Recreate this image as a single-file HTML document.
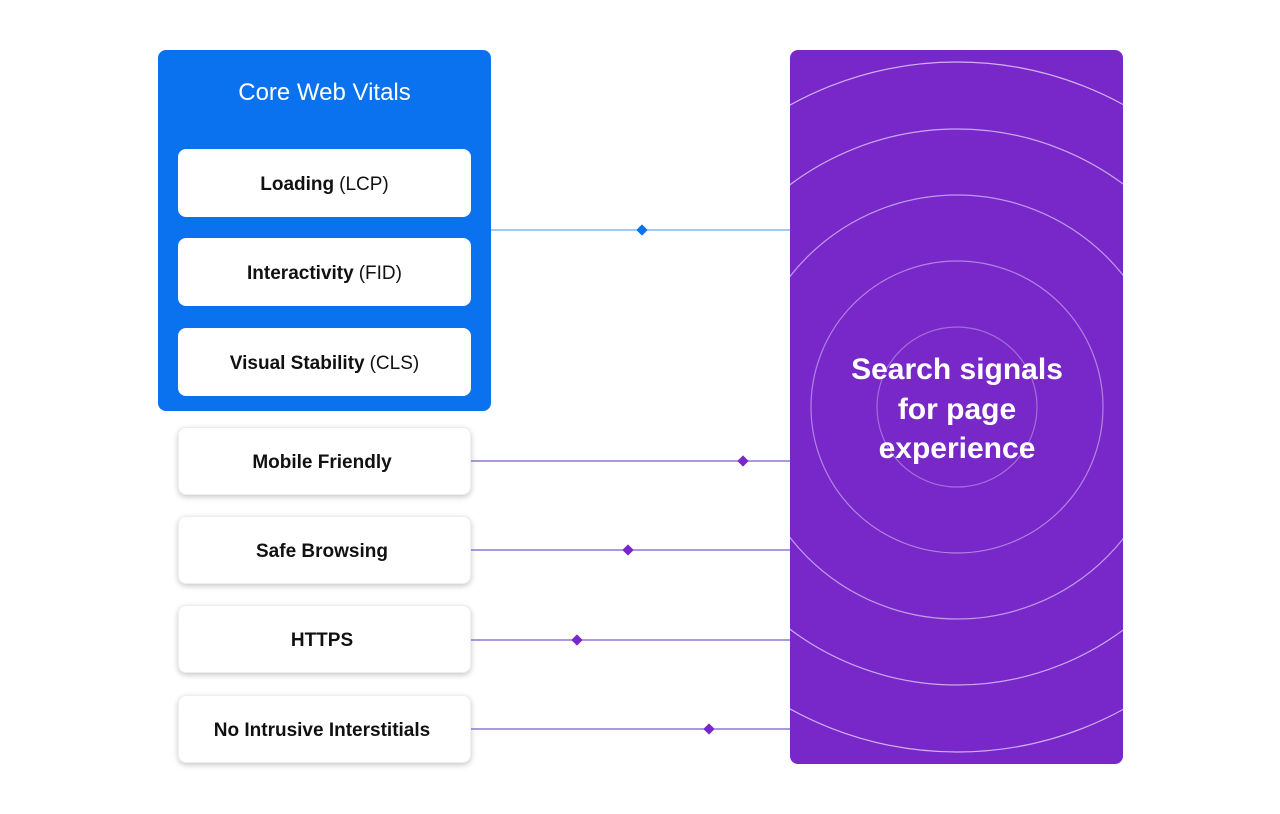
<!DOCTYPE html>
<html><head><style>
body{margin:0;width:1280px;height:814px;background:#fff;position:relative;font-family:"Liberation Sans",sans-serif;overflow:hidden}
.blue{position:absolute;left:158px;top:50px;width:333px;height:361px;background:#0a72ef;border-radius:8px}
.title{position:absolute;left:158px;top:79px;width:333px;text-align:center;color:#fff;font-size:24px}
.card{position:absolute;left:178px;width:293px;height:68px;background:#fff;border-radius:8px;display:flex;align-items:center;justify-content:center;font-size:19px;color:#111;padding-top:3px;box-sizing:border-box}
.card b{font-weight:bold;margin-right:5px}
.sh{box-shadow:0 2px 6px rgba(0,0,0,.22);border:1px solid #eee}
svg{position:absolute;left:0;top:0}
</style></head><body>
<div class="blue"></div>
<div class="title">Core Web Vitals</div>
<div class="card" style="top:149px"><b>Loading</b>(LCP)</div>
<div class="card" style="top:238px"><b>Interactivity</b>(FID)</div>
<div class="card" style="top:328px"><b>Visual Stability</b>(CLS)</div>
<div class="card sh" style="top:427px"><b>Mobile Friendly</b></div>
<div class="card sh" style="top:516px"><b>Safe Browsing</b></div>
<div class="card sh" style="top:605px"><b>HTTPS</b></div>
<div class="card sh" style="top:695px"><b>No Intrusive Interstitials</b></div>
<svg width="1280" height="814">
<defs><clipPath id="c"><rect x="790" y="50" width="333" height="714" rx="8"/></clipPath></defs>
<rect x="790" y="50" width="333" height="714" rx="8" fill="#7828c8"/>
<g clip-path="url(#c)" fill="none" stroke="#d9c0f5" stroke-width="1.2">
<circle cx="957" cy="407" r="80" opacity=".45"/><circle cx="957" cy="407" r="146" opacity=".6"/><circle cx="957" cy="407" r="212" opacity=".75"/><circle cx="957" cy="407" r="278" opacity=".85"/><circle cx="957" cy="407" r="345" opacity=".9"/>
</g>
<text x="957" y="379" fill="#fff" font-size="30" font-weight="bold" text-anchor="middle">Search signals</text>
<text x="957" y="419" fill="#fff" font-size="30" font-weight="bold" text-anchor="middle">for page</text>
<text x="957" y="458" fill="#fff" font-size="30" font-weight="bold" text-anchor="middle">experience</text>
<line x1="491" y1="230" x2="790" y2="230" stroke="#6aaaf5" stroke-width="1.3"/>
<rect x="638" y="226" width="8" height="8" fill="#0a72ef" transform="rotate(45 642 230)"/>
<g stroke="#7a5acb" stroke-width="1.3">
<line x1="471" y1="461" x2="790" y2="461"/><line x1="471" y1="550" x2="790" y2="550"/><line x1="471" y1="640" x2="790" y2="640"/><line x1="471" y1="729" x2="790" y2="729"/></g>
<g fill="#7828c8">
<rect x="739" y="457" width="8" height="8" transform="rotate(45 743 461)"/>
<rect x="624" y="546" width="8" height="8" transform="rotate(45 628 550)"/>
<rect x="573" y="636" width="8" height="8" transform="rotate(45 577 640)"/>
<rect x="705" y="725" width="8" height="8" transform="rotate(45 709 729)"/></g>
</svg>
</body></html>
